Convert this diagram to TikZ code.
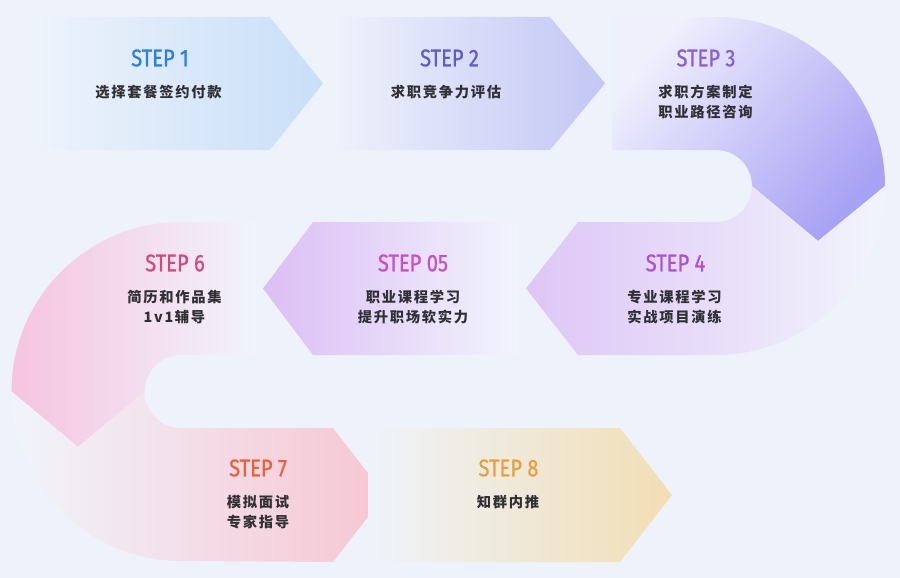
\documentclass[tikz,border=0pt]{standalone}
\usepackage{fontspec}
\setmainfont{Fira Sans}
\newfontfamily\stepfont[FakeStretch=0.84,FakeBold=0.8]{Fira Sans}
\newfontfamily\cjk[LetterSpace=12]{Noto Sans CJK SC}
\definecolor{bg}{RGB}{238,243,251}
\definecolor{fadec}{RGB}{241,244,252}
\definecolor{txt}{RGB}{48,48,52}
\definecolor{c1}{RGB}{40,128,228}
\definecolor{c2}{RGB}{92,90,212}
\definecolor{c3}{RGB}{136,92,218}
\definecolor{c4}{RGB}{172,80,212}
\definecolor{c5}{RGB}{200,78,204}
\definecolor{c6}{RGB}{212,72,130}
\definecolor{c7}{RGB}{234,96,60}
\definecolor{c8}{RGB}{232,160,62}
\definecolor{f1}{RGB}{200,223,248}
\definecolor{f2}{RGB}{196,198,245}
\definecolor{f3a}{RGB}{240,240,253}
\definecolor{f3b}{RGB}{168,162,244}
\definecolor{f4}{RGB}{222,198,246}
\definecolor{m4}{RGB}{236,230,250}
\definecolor{f5}{RGB}{220,190,245}
\definecolor{f6}{RGB}{246,196,224}
\definecolor{m6}{RGB}{241,226,242}
\definecolor{f7}{RGB}{246,198,210}
\definecolor{m7}{RGB}{242,232,240}
\definecolor{f8}{RGB}{242,222,180}
\tikzset{
  steplbl/.style={font=\stepfont\fontsize{24}{28}\selectfont, inner sep=0pt},
  desc/.style={font=\cjk\bfseries\fontsize{14.3}{20}\selectfont, text=txt, align=center, inner sep=0pt},
}
\begin{document}
\begin{tikzpicture}[x=1pt,y=1pt]
\fill[bg] (0,0) rectangle (900,-578);
\useasboundingbox (0,0) rectangle (900,-578);
% step 1
\path[left color=bg, right color=f1] (30,-17) -- (270,-17) -- (323,-83.5) -- (270,-150) -- (30,-150) -- cycle;
% step 2
\path[left color=bg, right color=f2] (328,-17) -- (550,-17) -- (605,-83.5) -- (550,-150) -- (328,-150) -- cycle;
% step 3
\path[top color=f3a, bottom color=f3b, shading angle=50] (612,-17) -- (716,-17) arc[start angle=90, end angle=0, radius=169pt] -- (818,-241) -- (752,-186) arc[start angle=0, end angle=90, radius=36pt] -- (612,-150) -- cycle;
% step 4
\path[left color=f4, middle color=m4, right color=fadec] (752,-186) -- (818,-241) -- (885,-186) arc[start angle=0, end angle=-90, radius=169pt] -- (578,-355) -- (526,-288.5) -- (578,-222) -- (716,-222) arc[start angle=-90, end angle=0, radius=36pt] -- cycle;
% step 05
\path[left color=f5, right color=fadec] (263,-288.5) -- (313,-222) -- (518,-222) -- (518,-355) -- (313,-355) -- cycle;
% step 6
\path[left color=f6, middle color=m6, right color=fadec] (256,-222) -- (181,-222) arc[start angle=90, end angle=180, radius=169.5pt] -- (78,-447) -- (144.5,-391.5) arc[start angle=180, end angle=90, radius=36.5pt] -- (256,-355) -- cycle;
% step 7
\path[left color=fadec, middle color=m7, right color=f7] (11.5,-391.5) -- (78,-447) -- (144.5,-391.5) arc[start angle=180, end angle=270, radius=36.5pt] -- (333,-428) -- (385,-495) -- (333,-562) -- (181,-561) arc[start angle=270, end angle=180, radius=169.5pt] -- cycle;
% step 8
\path[left color=bg, right color=f8] (368,-428) -- (620,-428) -- (672,-495) -- (620,-562) -- (368,-562) -- cycle;
% labels
\node[steplbl, text=c1] (s1) at (160,-58) {STEP 1};
\node[desc] (d1) at (158.5,-92.5) {选择套餐签约付款};
\node[steplbl, text=c2] (s2) at (449.5,-58) {STEP 2};
\node[desc] (d2) at (446,-92.5) {求职竞争力评估};
\node[steplbl, text=c3] (s3) at (706,-58) {STEP 3};
\node[desc] (d3) at (705.5,-102) {求职方案制定\\职业路径咨询};
\node[steplbl, text=c4] (s4) at (675.5,-263) {STEP 4};
\node[desc] (d4) at (674.5,-307) {专业课程学习\\实战项目演练};
\node[steplbl, text=c5] (s5) at (413,-263) {STEP 05};
\node[desc] (d5) at (413,-307) {职业课程学习\\提升职场软实力};
\node[steplbl, text=c6] (s6) at (175,-263) {STEP 6};
\node[desc] (d6) at (174.5,-307) {简历和作品集\\1v1辅导};
\node[steplbl, text=c7] (s7) at (258,-468) {STEP 7};
\node[desc] (d7) at (258,-512) {模拟面试\\专家指导};
\node[steplbl, text=c8] (s8) at (508.5,-468) {STEP 8};
\node[desc] (d8) at (508,-502) {知群内推};
\end{tikzpicture}
\end{document}
